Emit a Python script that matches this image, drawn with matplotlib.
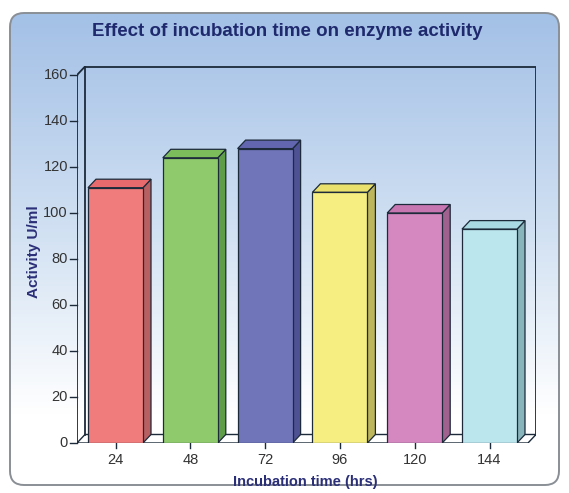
import numpy as np
import matplotlib
matplotlib.use("Agg")
import matplotlib.pyplot as plt
from matplotlib.patches import FancyBboxPatch, Polygon
from matplotlib.colors import LinearSegmentedColormap

plt.rcParams['font.family'] = ['Liberation Sans', 'DejaVu Sans']

# data
hours = ["24", "48", "72", "96", "120", "144"]
activity = [111, 124, 128, 109, 100, 93]
front_colors = ["#f17c7c", "#8fcb6c", "#7074b9", "#f6ee80", "#d488bf", "#bce6ee"]
side_colors = ["#b85f62", "#5f9d48", "#4e5294", "#bdb65a", "#a1618f", "#88b5bc"]
top_colors = ["#e86a6c", "#7dbc5b", "#6266ae", "#e9e16b", "#c776b2", "#a9d9e2"]
yticks = [0, 20, 40, 60, 80, 100, 120, 140, 160]

W, H = 569, 493
fig = plt.figure(figsize=(W / 100, H / 100), dpi=100)
fig.patch.set_facecolor("white")

# background panel with gradient
bg = fig.add_axes([0, 0, 1, 1])
bg.set_xlim(0, W)
bg.set_ylim(H, 0)
bg.axis("off")
panel = FancyBboxPatch((10, 13), 549, 472, boxstyle="round,pad=0,rounding_size=14",
                       facecolor="none", edgecolor="#8a8f96", linewidth=1.4, zorder=3)
bg.add_patch(panel)
grad = np.linspace(0, 1, 256)[:, None]
cmap = LinearSegmentedColormap.from_list(
    "g", [(0, "#a3c0e6"), (0.45, "#d0e0f2"), (0.85, "#ffffff"), (1, "#ffffff")])
im = bg.imshow(grad, extent=(10, 559, 485, 13), cmap=cmap, aspect="auto", zorder=1)
im.set_clip_path(panel)

# main axes (front plane + depth)
x0px, x1px, ybot, ytop = 77, 536, 443, 66
ax = fig.add_axes([x0px / W, (H - ybot) / H, (x1px - x0px) / W, (ybot - ytop) / H])
ax.patch.set_alpha(0)
ppu_y = 2.3
spacing = 74.8
cx0 = 115.5
ax.set_ylim(0, (ybot - ytop) / ppu_y)
xl = (x0px - cx0) / spacing
xr = (x1px - cx0) / spacing
ax.set_xlim(xl, xr)
for s in ax.spines.values():
    s.set_visible(False)
ax.set_xticks([])
ax.set_yticks([])

dx = 8 / spacing
dy = 8.5 / ppu_y
ymax = yticks[-1]
xf = xr - dx  # front right edge
lc = "#1c2a3a"

# floor
ax.add_patch(Polygon([(xl, 0), (xf, 0), (xr, dy), (xl + dx, dy)], closed=True,
                     facecolor="white", edgecolor=lc, linewidth=1.0, zorder=1))
# back wall lines
ax.plot([xl + dx, xl + dx, xr, xr], [dy, ymax + dy, ymax + dy, dy], color=lc, lw=1.3, zorder=1)
# front axis line + corner
ax.plot([xl, xl, xl + dx], [0, ymax, ymax + dy], color=lc, lw=1.3, zorder=1)

# bars
bw = 55 / spacing
xs = np.arange(len(hours))
for i, v in enumerate(activity):
    l = xs[i] - bw / 2
    r = xs[i] + bw / 2
    ax.add_patch(Polygon([(r, 0), (r + dx, dy), (r + dx, v + dy), (r, v)], closed=True,
                         facecolor=side_colors[i], edgecolor=lc, linewidth=0.9, zorder=2))
    ax.add_patch(Polygon([(l, v), (l + dx, v + dy), (r + dx, v + dy), (r, v)], closed=True,
                         facecolor=top_colors[i], edgecolor=lc, linewidth=0.9, zorder=2))
ax.bar(xs, activity, width=bw, color=front_colors, edgecolor=lc, linewidth=0.9, zorder=3)

# ticks and labels
tl = 7 / spacing
for t in yticks:
    ax.plot([xl - tl, xl], [t, t], color=lc, lw=1.0, clip_on=False)
    ax.text(xl - tl - 2 / spacing, t, str(t), ha="right", va="center", fontsize=10.5,
            color="#333333")
for i, h in enumerate(hours):
    ax.plot([xs[i], xs[i]], [0, -5 / ppu_y], color=lc, lw=1.0, clip_on=False)
    ax.text(xs[i], -10 / ppu_y, h, ha="center", va="top", fontsize=10.5, color="#333333")

fig.text(287 / W, 1 - 32 / H, "Effect of incubation time on enzyme activity", ha="center",
         va="center", fontsize=13.5, fontweight="bold", color="#1f2a6e")
fig.text(34 / W, 1 - 252 / H, "Activity U/ml", rotation=90, ha="center", va="center",
         fontsize=11, fontweight="bold", color="#2b2f78")
fig.text(305 / W, 1 - 482 / H, "Incubation time (hrs)", ha="center", va="center",
         fontsize=10.5, fontweight="bold", color="#2b2f78")

fig.savefig("out.png", dpi=100)
